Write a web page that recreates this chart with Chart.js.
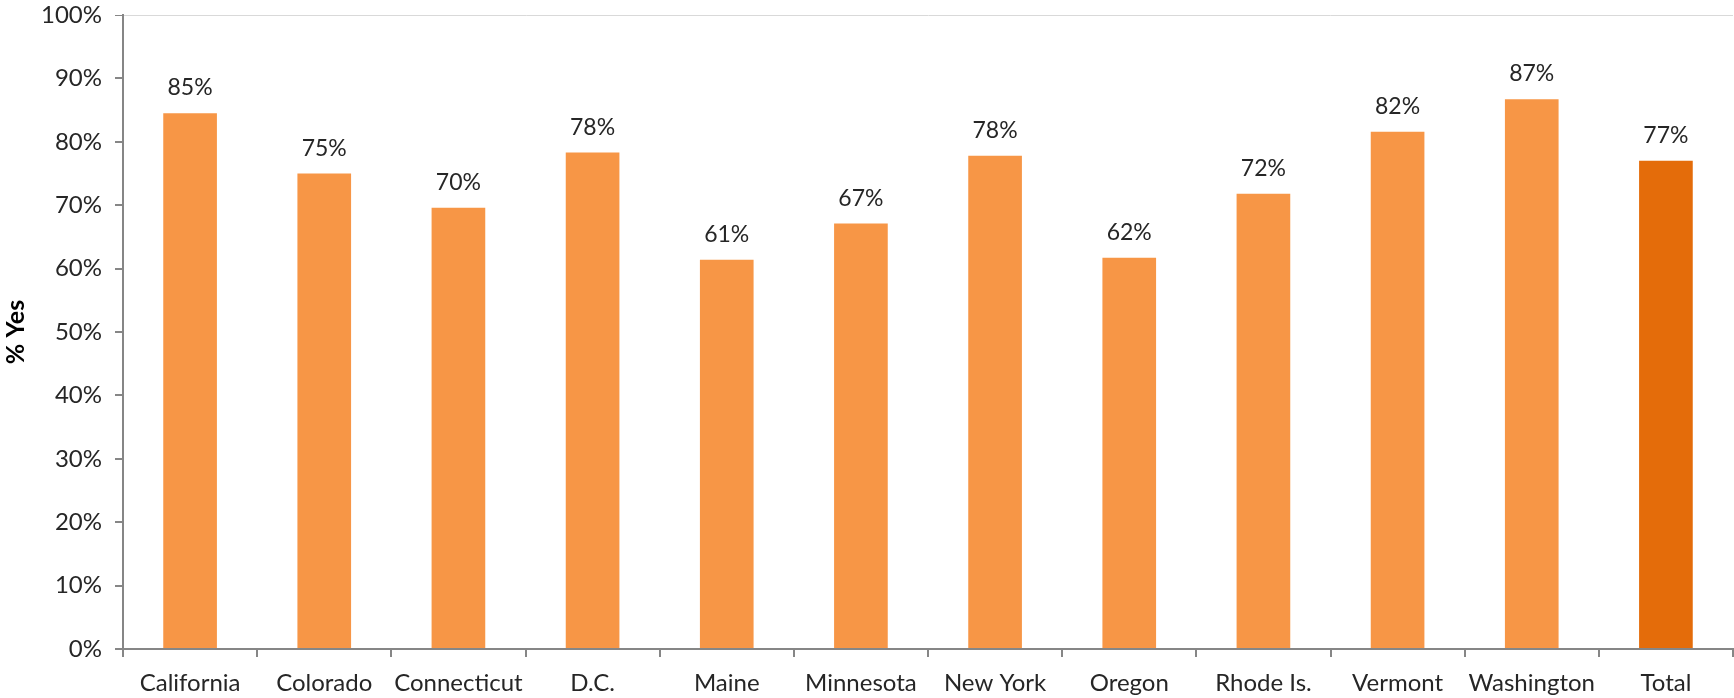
<!DOCTYPE html>
<html>
<head>
<meta charset="utf-8">
<script src="https://cdn.jsdelivr.net/npm/chart.js@4"></script>
<style>
  html, body { margin: 0; padding: 0; background: #fff; }
  #wrap { width: 1734px; height: 698px; }
</style>
</head>
<body>
<div id="wrap"><canvas id="yesChart" width="1734" height="698"></canvas></div>
<script>
const states = ['California', 'Colorado', 'Connecticut', 'D.C.', 'Maine', 'Minnesota',
    'New York', 'Oregon', 'Rhode Is.', 'Vermont', 'Washington', 'Total'];
const pctYes = [84.5, 75.0, 69.6, 78.3, 61.4, 67.1, 77.8, 61.7, 71.8, 81.6, 86.7, 77.0];
const yTicks = [0, 10, 20, 30, 40, 50, 60, 70, 80, 90, 100];

const barColors = states.map(s => s === 'Total' ? '#E46C0A' : '#F79646');

// draws the percent above each bar
const valueLabels = {
    id: 'valueLabels',
    afterDatasetsDraw(chart) {
        const c = chart.ctx;
        const meta = chart.getDatasetMeta(0);
        c.save();
        c.font = '23px Lato';
        c.fillStyle = '#262626';
        c.textAlign = 'center';
        c.textBaseline = 'alphabetic';
        meta.data.forEach((bar, i) => {
            c.fillText(Math.round(pctYes[i]) + '%', bar.x, bar.y - 18);
        });
        c.restore();
    }
};

const ctx = document.getElementById('yesChart').getContext('2d');
const yesChart = new Chart(ctx, {
    type: 'bar',
    data: {
        labels: states,
        datasets: [{
            data: pctYes,
            backgroundColor: barColors,
            categoryPercentage: 0.4,
            barPercentage: 1.0,
        }],
    },
    options: {
        responsive: false,
        animation: false,
        layout: { padding: { top: 0, right: 1, left: 0, bottom: 3 } },
        plugins: {
            legend: { display: false },
            tooltip: { enabled: false },
        },
        scales: {
            x: {
                afterFit: axis => { axis.height = 46; },
                grid: {
                    offset: true,
                    drawOnChartArea: false,
                    tickLength: 8,
                    tickColor: '#868686',
                    lineWidth: 2,
                },
                border: { color: '#868686', width: 2 },
                ticks: {
                    color: '#262626',
                    font: { family: 'Lato', size: 24, lineHeight: 1.0 },
                    padding: 14,
                    maxRotation: 0,
                },
            },
            y: {
                min: 0,
                max: 100,
                afterBuildTicks: axis => { axis.ticks = yTicks.map(v => ({ value: v })); },
                afterFit: axis => {
                    axis.width = 123;
                    axis.paddingTop = 15;
                    axis.paddingBottom = 0;
                },
                grid: {
                    color: c => c.tick && c.tick.value === 100 ? '#d9d9d9' : 'transparent',
                    tickColor: '#868686',
                    tickLength: 8,
                    lineWidth: c => c.tick && c.tick.value === 100 ? 1 : 2,
                },
                border: { color: '#868686', width: 2 },
                ticks: {
                    color: '#262626',
                    font: { family: 'Lato', size: 24, lineHeight: 1.0 },
                    padding: 13,
                    callback: v => v + '%',
                },
                title: {
                    display: true,
                    text: '% Yes',
                    color: '#000',
                    font: { family: 'Lato', size: 25, weight: 'bold' },
                    padding: { top: 1, bottom: 6 },
                },
            },
        },
    },
    plugins: [valueLabels],
});
</script>
</body>
</html>
